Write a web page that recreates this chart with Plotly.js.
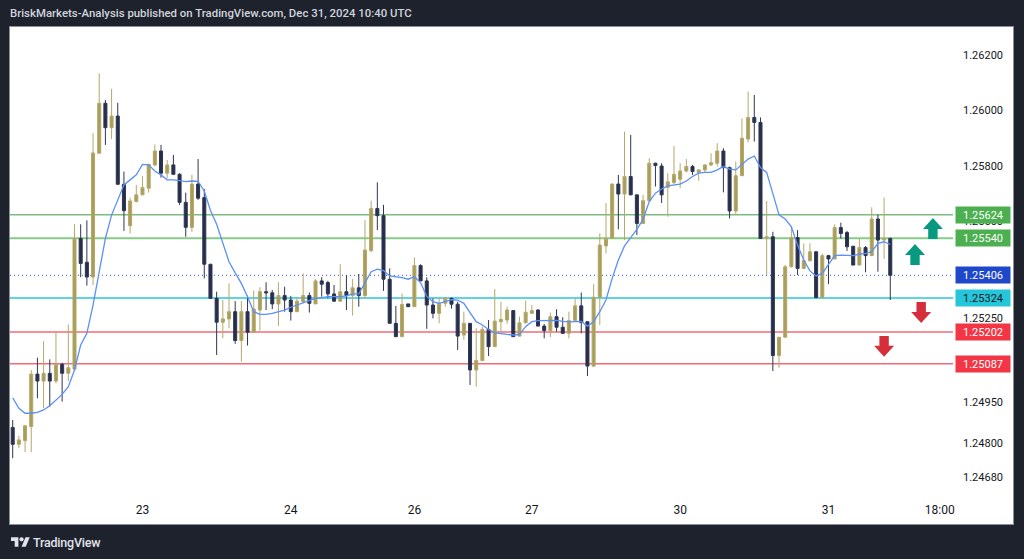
<!DOCTYPE html>
<html>
<head>
<meta charset="utf-8">
<script src="https://cdn.plot.ly/plotly-3.0.1.min.js"></script>
<style>
  html, body { margin:0; padding:0; background:#1e222d; width:1024px; height:559px; overflow:hidden; }
  #hdr { position:absolute; left:10px; top:6px; font-family:Roboto, "DejaVu Sans", sans-serif; font-size:11.4px; font-weight:500; color:#d1d4dc; white-space:nowrap; }
  #panel { position:absolute; left:9px; top:26px; width:1003px; height:497px; border:1px solid #8b8e97; background:#ffffff; }
  #chart { position:absolute; left:0; top:0; width:1003px; height:497px; }
  #ftr { position:absolute; left:11px; top:535px; height:14px; display:flex; align-items:center; gap:3px; }
  #ftr span { font-family:Roboto, sans-serif; font-size:12.5px; font-weight:500; color:#e0e3eb; letter-spacing:-0.2px; }
</style>
</head>
<body>
<div id="hdr">BriskMarkets-Analysis published on TradingView.com, Dec 31, 2024 10:40 UTC</div>
<div id="panel"><div id="chart"></div></div>
<div id="ftr">
  <svg width="19" height="14" viewBox="0 0 36 26"><path d="M14 22H7V11H0V4h14v18zM28 22h-8l7.5-18h8L28 22z" fill="#e0e3eb"/><circle cx="20" cy="8" r="4" fill="#e0e3eb"/></svg>
  <span>TradingView</span>
</div>
<script>
// ---- data (hourly bars) ----
const barOpen = [
1.24858,1.24797,1.24810,1.24861,1.25050,1.25025,1.25053,1.25025,1.25085,1.25053,
1.25068,1.25539,1.25453,1.25400,1.25846,1.26026,1.25938,1.25980,1.25734,1.25585,
1.25672,1.25696,1.25720,1.25804,1.25854,1.25774,1.25804,1.25770,1.25669,1.25579,
1.25735,1.25686,1.25446,1.25323,1.25237,1.25249,1.25275,1.25171,1.25275,1.25201,
1.25281,1.25347,1.25343,1.25303,1.25333,1.25317,1.25275,1.25311,1.25333,1.25303,
1.25386,1.25380,1.25339,1.25313,1.25347,1.25333,1.25361,1.25333,1.25495,1.25647,
1.25621,1.25392,1.25233,1.25185,1.25303,1.25293,1.25441,1.25386,1.25299,1.25269,
1.25305,1.25323,1.25302,1.25191,1.25233,1.25065,1.25099,1.25211,1.25149,1.25239,
1.25245,1.25279,1.25187,1.25235,1.25269,1.25281,1.25223,1.25207,1.25257,1.25219,
1.25197,1.25243,1.25296,1.25239,1.25079,1.25327,1.25512,1.25539,1.25735,1.25699,
1.25762,1.25696,1.25593,1.25675,1.25810,1.25800,1.25723,1.25740,1.25752,1.25782,
1.25798,1.25777,1.25786,1.25804,1.25810,1.25854,1.25794,1.25638,1.25765,1.25897,
1.25975,1.25957,1.25539,1.25545,1.25117,1.25183,1.25437,1.25542,1.25431,1.25459,
1.25491,1.25326,1.25477,1.25465,1.25578,1.25560,1.25511,1.25443,1.25506,1.25477,
1.25609,1.25533,1.25539];
const barHigh = [
1.24885,1.24828,1.24864,1.25065,1.25109,1.25169,1.25103,1.25201,1.25091,1.25229,
1.25590,1.25590,1.25604,1.25918,1.26134,1.26038,1.26078,1.26028,1.25780,1.25686,
1.25732,1.25764,1.25806,1.25878,1.25876,1.25822,1.25840,1.25774,1.25704,1.25768,
1.25825,1.25717,1.25446,1.25347,1.25317,1.25377,1.25313,1.25313,1.25333,1.25351,
1.25363,1.25381,1.25353,1.25381,1.25365,1.25332,1.25329,1.25413,1.25344,1.25393,
1.25399,1.25386,1.25371,1.25446,1.25406,1.25393,1.25411,1.25605,1.25675,1.25741,
1.25660,1.25431,1.25296,1.25341,1.25303,1.25471,1.25446,1.25399,1.25323,1.25325,
1.25329,1.25326,1.25311,1.25275,1.25233,1.25215,1.25221,1.25245,1.25357,1.25311,
1.25293,1.25281,1.25257,1.25315,1.25299,1.25284,1.25231,1.25272,1.25284,1.25255,
1.25275,1.25321,1.25344,1.25239,1.25374,1.25557,1.25666,1.25737,1.25768,1.25924,
1.25912,1.25696,1.25696,1.25828,1.25812,1.25810,1.25774,1.25872,1.25810,1.25825,
1.25804,1.25789,1.25806,1.25846,1.25882,1.25864,1.25798,1.25816,1.25971,1.26068,
1.26056,1.25975,1.25674,1.25563,1.25183,1.25443,1.25581,1.25569,1.25521,1.25521,
1.25491,1.25485,1.25480,1.25590,1.25596,1.25566,1.25511,1.25537,1.25512,1.25651,
1.25624,1.25686,1.25542];
const barLow = [
1.24747,1.24783,1.24769,1.24769,1.24963,1.24927,1.24933,1.25017,1.24951,1.25025,
1.25068,1.25399,1.25369,1.25371,1.25846,1.25876,1.25897,1.25734,1.25566,1.25557,
1.25669,1.25696,1.25704,1.25798,1.25758,1.25756,1.25768,1.25660,1.25545,1.25563,
1.25678,1.25395,1.25321,1.25119,1.25179,1.25215,1.25159,1.25095,1.25153,1.25201,
1.25207,1.25281,1.25284,1.25224,1.25275,1.25243,1.25275,1.25305,1.25272,1.25303,
1.25329,1.25323,1.25311,1.25311,1.25281,1.25261,1.25293,1.25323,1.25489,1.25569,
1.25350,1.25233,1.25185,1.25185,1.25293,1.25293,1.25386,1.25213,1.25251,1.25233,
1.25293,1.25286,1.25137,1.25173,1.25011,1.25005,1.25099,1.25115,1.25149,1.25203,
1.25231,1.25185,1.25185,1.25233,1.25267,1.25223,1.25179,1.25183,1.25203,1.25195,
1.25179,1.25240,1.25197,1.25043,1.25077,1.25227,1.25485,1.25539,1.25572,1.25533,
1.25696,1.25551,1.25593,1.25672,1.25726,1.25667,1.25617,1.25735,1.25720,1.25777,
1.25768,1.25747,1.25777,1.25800,1.25798,1.25705,1.25611,1.25623,1.25765,1.25885,
1.25888,1.25537,1.25407,1.25061,1.25073,1.25183,1.25434,1.25407,1.25431,1.25455,
1.25323,1.25323,1.25374,1.25465,1.25539,1.25494,1.25443,1.25443,1.25417,1.25477,
1.25419,1.25465,1.25317];
const barClose = [
1.24797,1.24813,1.24864,1.25050,1.25025,1.25053,1.25025,1.25085,1.25053,1.25073,
1.25539,1.25449,1.25400,1.25847,1.26026,1.25938,1.25980,1.25734,1.25639,1.25674,
1.25696,1.25722,1.25806,1.25854,1.25774,1.25804,1.25770,1.25669,1.25579,1.25735,
1.25684,1.25446,1.25323,1.25237,1.25249,1.25275,1.25171,1.25275,1.25201,1.25285,
1.25347,1.25343,1.25303,1.25333,1.25317,1.25275,1.25313,1.25333,1.25305,1.25386,
1.25374,1.25339,1.25313,1.25347,1.25333,1.25361,1.25333,1.25497,1.25647,1.25621,
1.25392,1.25233,1.25185,1.25301,1.25293,1.25441,1.25386,1.25299,1.25269,1.25305,
1.25323,1.25302,1.25187,1.25233,1.25065,1.25099,1.25211,1.25149,1.25241,1.25247,
1.25281,1.25185,1.25235,1.25273,1.25279,1.25223,1.25207,1.25257,1.25219,1.25197,
1.25243,1.25296,1.25236,1.25079,1.25327,1.25515,1.25539,1.25735,1.25699,1.25762,
1.25696,1.25593,1.25675,1.25810,1.25802,1.25696,1.25743,1.25770,1.25782,1.25798,
1.25780,1.25786,1.25804,1.25812,1.25854,1.25794,1.25638,1.25765,1.25900,1.25975,
1.25957,1.25539,1.25545,1.25117,1.25183,1.25437,1.25542,1.25431,1.25459,1.25491,
1.25326,1.25477,1.25465,1.25578,1.25557,1.25509,1.25443,1.25506,1.25477,1.25609,
1.25533,1.25539,1.25406];
// moving average line
const maLine = [
1.24965,1.24927,1.24909,1.24909,1.24912,1.24921,1.24936,1.24957,1.24977,1.25005,
1.25065,1.25155,1.25197,1.25299,1.25419,1.25539,1.25623,1.25678,1.25732,1.25750,
1.25768,1.25806,1.25804,1.25782,1.25768,1.25750,1.25750,1.25747,1.25744,1.25746,
1.25745,1.25710,1.25640,1.25590,1.25520,1.25455,1.25415,1.25377,1.25329,1.25275,
1.25265,1.25265,1.25269,1.25275,1.25281,1.25291,1.25299,1.25307,1.25317,1.25323,
1.25326,1.25329,1.25329,1.25329,1.25332,1.25339,1.25339,1.25377,1.25419,1.25428,
1.25423,1.25404,1.25401,1.25398,1.25392,1.25401,1.25380,1.25330,1.25311,1.25305,
1.25311,1.25318,1.25317,1.25305,1.25272,1.25239,1.25227,1.25211,1.25199,1.25195,
1.25193,1.25191,1.25193,1.25221,1.25239,1.25243,1.25244,1.25245,1.25244,1.25240,
1.25238,1.25239,1.25240,1.25223,1.25239,1.25275,1.25317,1.25395,1.25461,1.25512,
1.25543,1.25572,1.25608,1.25672,1.25702,1.25717,1.25728,1.25732,1.25735,1.25746,
1.25762,1.25774,1.25777,1.25777,1.25786,1.25798,1.25789,1.25786,1.25806,1.25825,
1.25836,1.25794,1.25777,1.25696,1.25624,1.25609,1.25581,1.25515,1.25461,1.25422,
1.25404,1.25413,1.25443,1.25477,1.25479,1.25479,1.25477,1.25482,1.25485,1.25491,
1.25521,1.25527,1.25517];
const barIndex = barClose.map((_, i) => i);

// time-axis labels (bar index where each day starts)
const dayTickIdx  = [21, 45, 65, 84, 108, 132, 150];
const dayTickText = ['23', '24', '26', '27', '30', '31', '18:00'];

// price-scale labels
const priceTicks = [1.26200, 1.26000, 1.25800, 1.25600, 1.25250, 1.24950, 1.24800, 1.24680];

// horizontal levels and their price tags
const levels      = [1.25624, 1.25540, 1.25406, 1.25324, 1.25202, 1.25087];
const levelColor  = ['#3e9c44', '#86cc88', '#3358e0', '#5fd5e3', '#f26b77', '#f26b77'];
const levelWidth  = [1, 2, 1, 2, 1.5, 1.5];
const levelDash   = ['solid', 'solid', '1px,3px', 'solid', 'solid', 'solid'];
const tagColor    = ['#4caf50', '#4caf50', '#1f47c9', '#26c6da', '#f23645', '#f23645'];
const tagText     = ['#ffffff', '#ffffff', '#ffffff', '#131722', '#ffffff', '#ffffff'];

// drawn arrows (bar index, price, direction)
const arrowIdx   = [148.9, 146.0, 147.0, 141.0];
const arrowPrice = [1.25575, 1.25481, 1.25272, 1.25150];
const arrowDir   = ['up', 'up', 'down', 'down'];

// ---- build chart ----
const PXX = 6.18;      // px per bar
const PXY = 27750;     // px per price unit
function arrowPath(xc, yc, dir) {
  const s = dir === 'up' ? 1 : -1;
  const pts = [[0,-10.5],[10,0.5],[4.7,0.5],[4.7,10.5],[-4.7,10.5],[-4.7,0.5],[-10,0.5]];
  return pts.map((p, k) => (k ? 'L' : 'M') + (xc + p[0] / PXX).toFixed(4) + ',' + (yc - s * p[1] / PXY).toFixed(6)).join(' ') + ' Z';
}

const shapes = [];
levels.forEach((v, k) => {
  shapes.push({type:'line', xref:'paper', x0:0, x1:1, yref:'y', y0:v, y1:v, layer:'below',
    line:{color:levelColor[k], width:levelWidth[k], dash:levelDash[k]}});
});
arrowIdx.forEach((xi, k) => {
  shapes.push({type:'path', xref:'x', yref:'y', path:arrowPath(xi, arrowPrice[k], arrowDir[k]),
    fillcolor: arrowDir[k] === 'up' ? '#089981' : '#d42f3a', line:{width:0}, layer:'above'});
});

const annotations = levels.map((v, k) => ({
  xref:'paper', x:1, xanchor:'left', xshift:2, yref:'y', y:v, yanchor:'middle',
  text:v.toFixed(5), showarrow:false, bgcolor:tagColor[k], borderpad:2, width:50, height:12,
  align:'center', font:{family:'Roboto, sans-serif', size:11, color:tagText[k]}
}));

const traces = [
  {type:'candlestick', x:barIndex, open:barOpen, high:barHigh, low:barLow, close:barClose,
   increasing:{line:{color:'#b3a86a', width:1}, fillcolor:'#a99d58'},
   decreasing:{line:{color:'#2e3653', width:1}, fillcolor:'#262e4a'},
   whiskerwidth:0, hoverinfo:'skip'},
  {type:'scatter', mode:'lines', x:barIndex, y:maLine, line:{color:'#5b8ff9', width:1.3}, hoverinfo:'skip'}
];

const layout = {
  width:1003, height:497,
  margin:{l:0, r:60, t:0, b:27, pad:0},
  paper_bgcolor:'#ffffff', plot_bgcolor:'#ffffff',
  showlegend:false,
  xaxis:{range:[-0.437, 152.15], showgrid:false, zeroline:false, showline:false, ticks:'',
    tickvals:dayTickIdx, ticktext:dayTickText, rangeslider:{visible:false}, fixedrange:true,
    tickfont:{family:'Roboto, sans-serif', size:12, color:'#131722'}, ticklabelstandoff:4},
  yaxis:{range:[1.246072, 1.263009], side:'right', showgrid:false, zeroline:false, showline:false, ticks:'',
    tickvals:priceTicks, ticktext:priceTicks.map(v => v.toFixed(5)), fixedrange:true,
    tickfont:{family:'Roboto, sans-serif', size:11, color:'#131722'}, ticklabelstandoff:9},
  shapes:shapes, annotations:annotations
};

Plotly.newPlot('chart', traces, layout, {staticPlot:true, displayModeBar:false});
</script>
</body>
</html>
